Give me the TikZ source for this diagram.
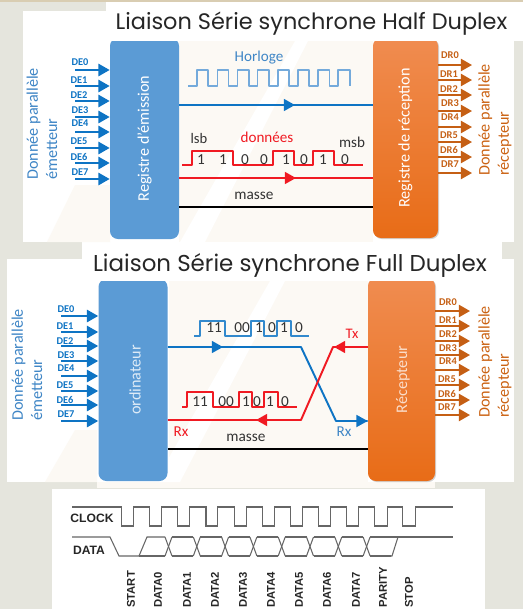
\documentclass[tikz,border=0pt]{standalone}
\usepackage{fontspec}
\setmainfont{Carlito}
\newfontfamily\titlefont{Poppins}
\newfontfamily\chronofont{Liberation Sans}
\usepackage{tikz}
\usetikzlibrary{arrows.meta, calc, positioning, shadows}

\definecolor{fondgris}{HTML}{E5E5DD}
\definecolor{fondhaut}{HTML}{D9CDB2}
\definecolor{creme}{HTML}{FCF9F4}
\definecolor{bloc}{HTML}{5B9BD5}
\definecolor{bleu}{HTML}{0E74C4}
\definecolor{bleutexte}{HTML}{3F86C6}
\definecolor{brun}{HTML}{C55F14}
\definecolor{rouge}{HTML}{F01A22}
\definecolor{orangehaut}{HTML}{F08C50}
\definecolor{orangebas}{HTML}{E86C17}

\tikzset{
	regbleu/.style={fill=bloc, rounded corners=4.5pt, text=white, font=\fontsize{9.2}{11}\selectfont, inner sep=0pt, minimum width=69*0.02cm},
	regorange/.style={top color=orangehaut, bottom color=orangebas, draw=none, rounded corners=4.5pt, text=white, font=\fontsize{9.2}{11}\selectfont, inner sep=0pt, drop shadow={shadow xshift=.6pt, shadow yshift=-.6pt, opacity=.35}},
	titre/.style={font=\titlefont\fontsize{12.76}{14}\selectfont, text=black!85, inner sep=0pt},
	etiq/.style={font=\fontsize{8.7}{10}\selectfont, text=black!80, inner sep=0pt},
	bitde/.style={font=\bfseries\fontsize{5.9}{7}\selectfont, text=bleu, inner sep=0pt},
	bitdr/.style={font=\bfseries\fontsize{5.9}{7}\selectfont, text=brun, inner sep=0pt},
	cote/.style={font=\fontsize{9.2}{11}\selectfont, align=left, rotate=90, anchor=west, inner sep=0pt},
	flechede/.style={draw=bleu, line width=1.1pt, -{Triangle[length=6.4pt,width=7pt]}},
	flechedr/.style={draw=brun, line width=1.1pt, -{Triangle[length=6.4pt,width=7pt]}},
	filbleu/.style={draw=bleu, line width=1.1pt, line join=round},
	filrouge/.style={draw=rouge, line width=1.1pt, line join=round},
	filnoir/.style={draw=black, line width=1.2pt},
	pointe/.style={-{Triangle[length=6.4pt,width=6.8pt]}},
	onde/.style={line width=1pt, line join=round},
	chrono/.style={draw=black!60, line width=.6pt},
	chronotxt/.style={font=\chronofont\bfseries\fontsize{6.4}{8}\selectfont, text=black!85, inner sep=0pt}
}

\begin{document}
\begin{tikzpicture}[x=0.02cm, y=-0.02cm]
	\useasboundingbox (0,0) rectangle (523,609);
	% fonds
	\fill[fondgris] (0,0) rectangle (523,609);
	\fill[fondhaut] (0,0) rectangle (523,2);
	\fill[white] (23,11) rectangle (514,242);
	\fill[white] (82,242) rectangle (502,259);
	\fill[white] (7,259) rectangle (514,482);
	\fill[white] (52,489) rectangle (485,609);
	\fill[creme] (97,482) rectangle (435,488);
	\fill[creme] (179,41) rectangle (373,242);
	\fill[white] (295,41) -- (308,41) -- (205,242) -- (180,242) -- cycle;
	\fill[creme] (47,242) -- (75,185) -- (110,185) -- (110,242) -- cycle;
	\fill[creme] (169,281) rectangle (368,482);
	\fill[white] (270,281) -- (285,281) -- (180,482) -- (155,482) -- cycle;
	\fill[creme] (45,482) -- (75,430) -- (97,430) -- (97,482) -- cycle;

	% half duplex
	\begin{scope}
		\node[regbleu, minimum height=201*0.02cm] (em) at (144.5,138.5) {\rotatebox{90}{Registre d'émission}};
		\node[regorange, minimum width=65*0.02cm, minimum height=200*0.02cm] (rec) at (405.5,138) {\rotatebox{90}{Registre de réception}};
		\fill[white] (106,2) rectangle (523,41);
		\node[titre] (titrehalf) at (311.5,24) {Liaison Série synchrone Half Duplex};

		\node[cote, text=bleutexte] (donem) at (42,180) {Donnée parallèle\\émetteur};
		\node[cote, text=brun!90!orange] (donrec) at (495,176) {Donnée parallèle\\récepteur};

		\foreach \i/\y/\lx/\ly in {0/70/80/62, 1/86/79/80, 2/101/79/95, 3/117/80/110, 4/132/80/123, 5/148/79/141, 6/163/79/157, 7/179/80/172} {
			\coordinate (dea\i) at (75,\y);
			\draw[flechede] (dea\i) -- (em.west |- dea\i);
			\node[bitde] (labde\i) at (\lx,\ly) {DE\i};
		}
		\foreach \i/\y/\lx/\ly in {0/65/450/55, 1/80/449/74, 2/95/449/89, 3/111/450/103, 4/127/450/117, 5/142/449/135, 6/157/449/150, 7/173/450/164} {
			\coordinate (dra\i) at (472,\y);
			\draw[flechedr] (rec.east |- dra\i) -- (dra\i);
			\node[bitdr] (labdr\i) at (\lx,\ly) {DR\i};
		}

		\node[font=\fontsize{8.6}{10}\selectfont, text=bleutexte, inner sep=0pt] (horloge) at (259,58) {Horloge};
		\draw[bloc!85!white, onde] (188,86) -- (197.3,86) \foreach \k in {0,...,7} {-- ({197.3+20.1*\k},86) -- ({197.3+20.1*\k},70) -- ({208.3+20.2*\k},70) -- ({208.3+20.2*\k},86)};

		\coordinate (ha) at (em.east |- 0,105);
		\coordinate (hm) at (295,105);
		\draw[filbleu] (ha) -- (rec.west |- ha);
		\draw[filbleu, pointe] (ha) -- (hm);

		\node[etiq, font=\fontsize{8.3}{10}\selectfont] (lsb) at (199,138) {lsb};
		\node[etiq, font=\fontsize{8.6}{10}\selectfont, text=rouge] (donnees) at (267,137) {données};
		\node[etiq, font=\fontsize{8.6}{10}\selectfont] (msb) at (352,142) {msb};
		\draw[rouge, onde] (182,165) -- (192,165) -- (192,151) -- (233,151) -- (233,165) -- (273,165) -- (273,151) -- (294,151) -- (294,165) -- (313,165) -- (313,151) -- (334,151) -- (334,165) -- (363,165);
		\foreach \n/\x/\b in {a/201/1, b/223/1, c/245/0, d/264/0, e/286/1, f/304/0, g/323/1, h/345/0} {
			\node[etiq] (bit\n) at (\x,160) {\b};
		}

		\coordinate (da) at (em.east |- 0,178);
		\coordinate (dm) at (296,178);
		\draw[filrouge] (da) -- (rec.west |- da);
		\draw[filrouge, pointe] (da) -- (dm);

		\node[etiq] (masse) at (254,196) {masse};
		\coordinate (ma) at (em.east |- 0,207);
		\draw[filnoir] (ma) -- (rec.west |- ma);
	\end{scope}

	% full duplex
	\begin{scope}
		\node[regbleu, minimum height=202*0.02cm, text=white!80!bloc] (ordi) at (133,380) {\hspace{2.3pt}\rotatebox{90}{ordinateur}};
		\node[regorange, minimum width=67*0.02cm, minimum height=203*0.02cm, text=white!70!orangehaut] (recf) at (401.5,379.5) {\hspace{1.7pt}\rotatebox{90}{Récepteur}};
		\fill[white] (82,259) rectangle (514,281);
		\node[titre, font=\titlefont\fontsize{13.06}{14}\selectfont] (titrefull) at (290,266) {Liaison Série synchrone Full Duplex};

		\node[cote, text=bleutexte] (donemf) at (27,421) {Donnée parallèle\\émetteur};
		\node[cote, text=brun!90!orange] (donrecf) at (495,418) {Donnée parallèle\\récepteur};

		\foreach \i/\y/\lx/\ly in {0/316/66/309, 1/332/65/326, 2/346/65/341, 3/361/66/355, 4/376/66/368, 5/391/65/385, 6/405/65/400, 7/421/66/414} {
			\coordinate (deb\i) at (61,\y);
			\draw[flechede] (deb\i) -- (ordi.west |- deb\i);
			\node[bitde] (labdef\i) at (\lx,\ly) {DE\i};
		}
		\foreach \i/\y/\lx/\ly in {0/311/448/302, 1/326/448/320, 2/341/448/334, 3/355/448/348, 4/370/448/361, 5/385/447/379, 6/400/447/394, 7/415/447/407} {
			\coordinate (drb\i) at (470,\y);
			\draw[flechedr] (recf.east |- drb\i) -- (drb\i);
			\node[bitdr] (labdrf\i) at (\lx,\ly) {DR\i};
		}

		\draw[bleu!85!white, onde] (194,336) -- (200,336) -- (200,321) -- (225,321) -- (225,336) -- (251,336) -- (251,321) -- (264,321) -- (264,336) -- (277,336) -- (277,321) -- (291,321) -- (291,336) -- (309,336);
		\foreach \n/\x/\b in {a/214/11, b/242/00, c/259/1, d/272/0, e/284/1, f/299/0} {
			\node[etiq] (hbit\n) at (\x,328) {\b};
		}
		\draw[rouge, onde] (182,407) -- (187,407) -- (187,392) -- (213,392) -- (213,407) -- (239,407) -- (239,392) -- (252,392) -- (252,407) -- (264,407) -- (264,392) -- (278,392) -- (278,407) -- (297,407);
		\foreach \n/\x/\b in {a/200/11, b/226/00, c/246/1, d/257/0, e/270/1, f/285/0} {
			\node[etiq] (bbit\n) at (\x,402) {\b};
		}

		\coordinate (tx) at (ordi.east |- 0,347);
		\coordinate (txm) at (223,347);
		\coordinate (rx) at (recf.west |- 0,421);
		\draw[filbleu] (tx) -- (301,347) -- (336,421) -- (rx);
		\draw[filbleu, pointe] (tx) -- (txm);
		\draw[filbleu, pointe] (336,421) -- (rx);

		\coordinate (rta) at (recf.west |- 0,347);
		\coordinate (rtb) at (ordi.east |- 0,420);
		\coordinate (rtm) at (256,420);
		\draw[filrouge] (rta) -- (333,347) -- (301,420) -- (rtb);
		\draw[filrouge, pointe] (rta) -- (334,347);
		\draw[filrouge, pointe] (301,420) -- (rtm);

		\node[etiq, font=\fontsize{8.3}{10}\selectfont, text=rouge] (txl) at (352,334) {Tx};
		\node[etiq, font=\fontsize{8.6}{10}\selectfont, text=rouge] (rxr) at (181,432) {Rx};
		\node[etiq, font=\fontsize{8.6}{10}\selectfont, text=bleutexte] (rxb) at (344,432) {Rx};

		\node[etiq] (massef) at (246,438) {masse};
		\coordinate (mb) at (ordi.east |- 0,449);
		\draw[filnoir] (mb) -- (recf.west |- mb);
	\end{scope}

	% chronogramme
	\begin{scope}
		\node[chronotxt, font=\chronofont\bfseries\fontsize{6.9}{8}\selectfont] (clock) at (92,518) {CLOCK};
		\node[chronotxt, font=\chronofont\bfseries\fontsize{6.9}{8}\selectfont] (data) at (89,550) {DATA};
		\draw[chrono] (72,507) -- (121.7,507) \foreach \k in {0,...,10} {-- ({121.7+28.1*\k},507) -- ({121.7+28.1*\k},526) -- ({133.3+28.2*\k},526) -- ({133.3+28.2*\k},507)} -- (453,507);

		\draw[chrono] (72,537) -- (110,537) -- (119,556) -- (139,556);
		\draw[chrono] (139,556) -- (147,537) -- (165,537);
		\draw[chrono] (139,556) -- (165,556);
		\foreach \k in {0,...,7} {
			\draw[chrono] ({165+28.3*\k},537) -- ({172+28.3*\k},556);
			\draw[chrono] ({165+28.3*\k},556) -- ({172+28.3*\k},537);
			\draw[chrono] ({172+28.3*\k},537) -- ({193.3+28.3*\k},537);
			\draw[chrono] ({172+28.3*\k},556) -- ({193.3+28.3*\k},556);
		}
		\draw[chrono] (391,537) -- (453,537);
		\draw[chrono] (391,556) -- (392,556) -- (398,537);

		\foreach \n/\x/\t in {st/131/START, da/158/DATA0, db/187/DATA1, dc/215/DATA2, dd/243/DATA3, de/271/DATA4, df/299/DATA5, dg/327/DATA6, dh/356/DATA7, pa/383/PARITY, so/409/STOP} {
			\node[chronotxt, rotate=90, anchor=west] (lab\n) at (\x,608) {\t};
		}
	\end{scope}
\end{tikzpicture}
\end{document}
